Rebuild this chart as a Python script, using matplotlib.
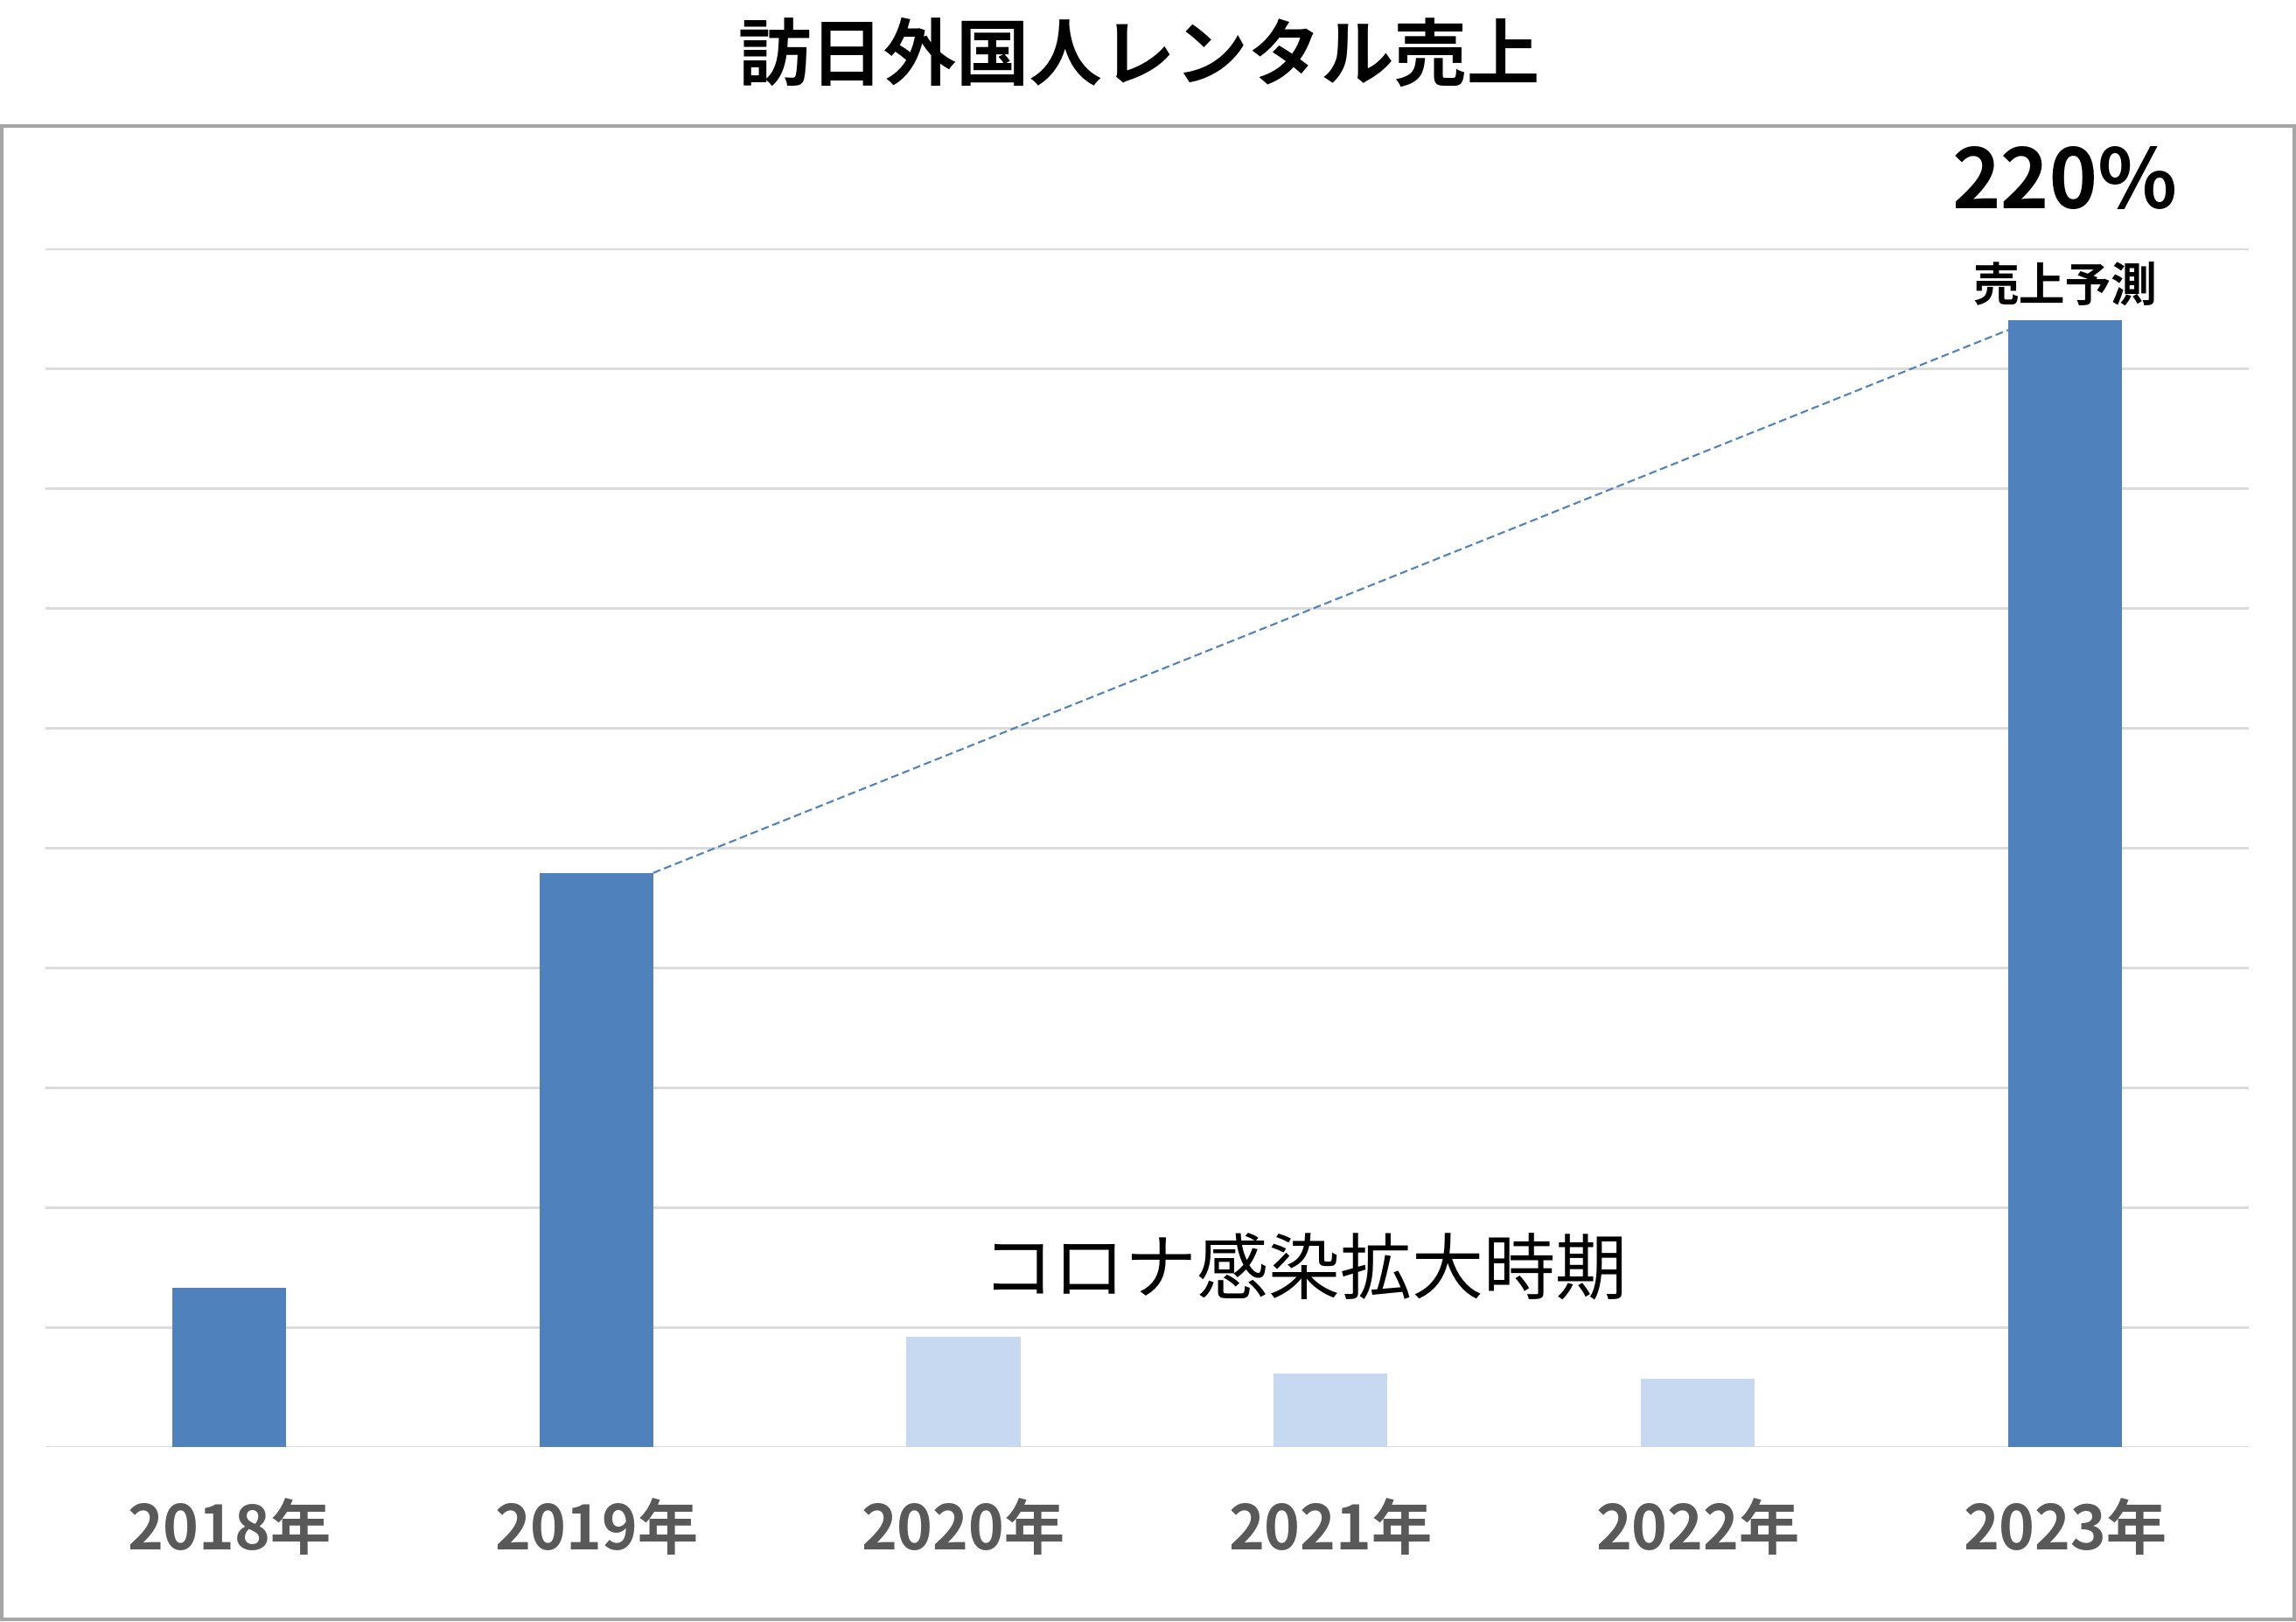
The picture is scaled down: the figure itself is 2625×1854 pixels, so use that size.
import matplotlib
matplotlib.use("Agg")
import matplotlib.pyplot as plt
from matplotlib.patches import Rectangle

plt.rcParams['font.family'] = ['Noto Sans CJK JP', 'DejaVu Sans']

# chart data
years = ['2018年', '2019年', '2020年', '2021年', '2022年', '2023年']
sales = [1.33, 4.79, 0.92, 0.61, 0.57, 9.40]
is_covid = [False, False, True, True, True, False]
trend_years = [1, 5]          # 2019 -> 2023 forecast line
trend_vals = [4.79, 9.32]

title = '訪日外国人レンタル売上'
growth_label = '220%'
forecast_label = '売上予測'
covid_label = 'コロナ感染拡大時期'

dark = '#4F81BD'
light = '#C6D9F0'
bar_w = 0.31

fig = plt.figure(figsize=(26.25, 18.54), dpi=100)
ax = fig.add_axes([0.0198, 0.1079, 0.9596, 0.7389])

x = range(len(years))
colors = [light if c else dark for c in is_covid]
ax.bar(x, sales, width=bar_w, color=colors, zorder=3)

# dashed trend line from top-right of 2019 bar to left edge of 2023 bar
ax.plot([trend_years[0] + bar_w / 2, trend_years[1] - bar_w / 2], trend_vals,
        color=dark, linestyle=(0, (4, 2)), linewidth=1.6, zorder=4)

ax.set_xlim(-0.5, len(years) - 0.5)
ax.set_ylim(0, 10)
ax.set_yticks(range(0, 11))
ax.yaxis.grid(True, color='#D9D9D9', linewidth=2)
ax.set_axisbelow(True)
ax.tick_params(axis='y', left=False, labelleft=False)
ax.tick_params(axis='x', bottom=False, pad=41)
ax.set_xticks(list(x))
ax.set_xticklabels(years, fontsize=50, fontweight='bold', color='#595959')
for s in ax.spines.values():
    s.set_visible(False)

# annotations
ax.text(5, 10.54, growth_label, ha='center', va='center', fontsize=68,
        fontweight='bold', color='black', clip_on=False)
ax.text(5, 9.68, forecast_label, ha='center', va='center', fontsize=38,
        fontweight='bold', color='black', clip_on=False)
ax.text(2.93, 1.45, covid_label, ha='center', va='center', fontsize=59,
        color='black')

# title and outer frame
fig.text(0.496, 0.964, title, ha='center', va='center', fontsize=60,
         fontweight='bold', color='black')
fig.patches.append(Rectangle((0.0008, 0.0015), 0.9984, 0.9208,
                             transform=fig.transFigure, fill=False,
                             edgecolor='#A6A6A6', linewidth=3))

fig.savefig('out.png', dpi=100)
